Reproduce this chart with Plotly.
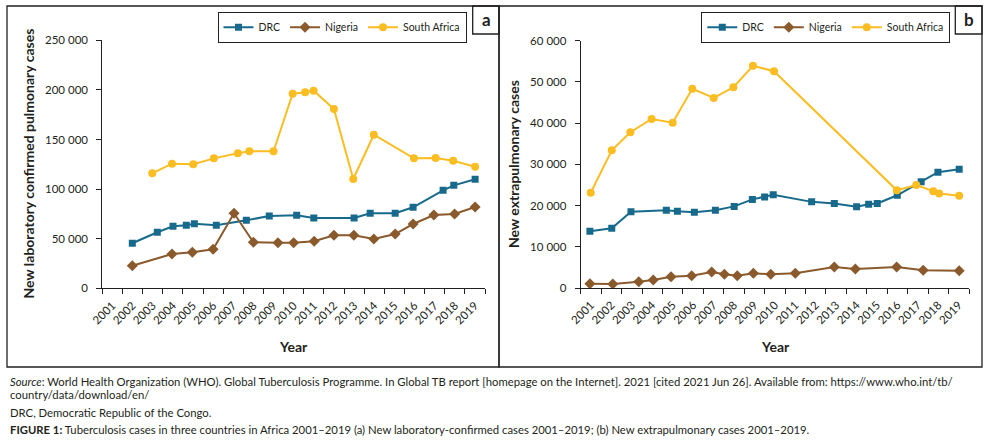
import plotly.graph_objects as go

W, H = 993, 448
INK = "#231f20"
FONT = "Lato, Carlito, 'Open Sans', sans-serif"

C_DRC = "#186a8c"
C_NIG = "#8a5a2c"
C_SA = "#fbbd21"

years = list(range(2001, 2020))
year_labels = [str(y) for y in years]
bounds = [y - 0.5 for y in years] + [2019.5]

# ---- Panel a: new laboratory-confirmed pulmonary cases ----
drc_a_year = [2001.99, 2003.23, 2004.01, 2004.67, 2005.07, 2006.16, 2007.65, 2008.79, 2010.15,
              2011.0, 2013.0, 2013.8, 2015.04, 2015.93, 2017.42, 2017.95, 2019.01]
drc_a = [45400, 56500, 62500, 63500, 65100, 63500, 68500, 72900, 73600,
         70900, 70900, 75600, 75600, 81700, 98800, 103800, 109900]

nig_a_year = [2001.99, 2003.96, 2004.97, 2006.0, 2007.04, 2008.0, 2009.22, 2010.0, 2011.02,
              2012.0, 2012.99, 2013.98, 2015.04, 2015.93, 2016.96, 2017.99, 2019.01]
nig_a = [22800, 34600, 36300, 39300, 75600, 46400, 46000, 46000, 47400,
         53400, 53400, 49700, 54700, 64800, 73900, 74900, 82000]

sa_a_year = [2002.98, 2003.96, 2005.02, 2006.04, 2007.23, 2007.8, 2009.0, 2009.95, 2010.57,
             2010.99, 2012.0, 2012.96, 2013.98, 2015.97, 2017.05, 2017.92, 2019.01]
sa_a = [115900, 125600, 125000, 131000, 136100, 138100, 138100, 196200, 197600,
        199200, 180700, 110200, 154800, 131000, 131400, 128600, 122600]

# ---- Panel b: new extrapulmonary cases ----
drc_b_year = [2000.95, 2002.02, 2002.96, 2004.69, 2005.23, 2006.06, 2007.09, 2008.01, 2008.9, 2009.5,
              2009.92, 2011.8, 2012.91, 2014.0, 2014.59, 2015.01, 2015.99, 2017.16, 2017.98, 2019.02]
drc_b = [13750, 14500, 18500, 18850, 18600, 18400, 18850, 19800, 21500, 22100,
         22600, 20900, 20500, 19700, 20300, 20500, 22500, 25800, 28100, 28800]

nig_b_year = [2000.95, 2002.07, 2003.34, 2004.05, 2004.92, 2005.93, 2006.91, 2007.53, 2008.16,
              2008.95, 2009.8, 2011.0, 2012.91, 2013.94, 2015.96, 2017.26, 2019.02]
nig_b = [1040, 970, 1530, 1940, 2740, 2980, 3880, 3320, 2980,
         3570, 3320, 3570, 5090, 4610, 5090, 4290, 4200]

sa_b_year = [2000.99, 2002.02, 2002.93, 2003.97, 2005.0, 2005.96, 2007.01, 2007.97, 2008.93,
             2009.96, 2015.97, 2016.92, 2017.75, 2018.04, 2019.02]
sa_b = [23100, 33400, 37800, 41000, 40100, 48350, 46100, 48700, 53900,
        52600, 23700, 25000, 23500, 22900, 22400]

series_names = ["DRC", "Nigeria", "South Africa"]
y_title_a = "New laboratory confirmed pulmonary cases"
y_title_b = "New extrapulmonary cases"
x_title = "Year"

caption_source = ("<i>Source</i>: World Health Organization (WHO). Global Tuberculosis Programme. In Global TB report "
                  "[homepage on the Internet]. 2021 [cited 2021 Jun 26]. Available from: https://www.who.int/tb/")
caption_source2 = "country/data/download/en/"
caption_abbr = "DRC, Democratic Republic of the Congo."
caption_fig = ("<b>FIGURE 1:</b> Tuberculosis cases in three countries in Africa 2001–2019 (a) New laboratory-confirmed "
               "cases 2001–2019; (b) New extrapulmonary cases 2001–2019.")


def px(x):
    return x / W


def py(y):
    return 1 - y / H


styles = [
    (C_DRC, "square", 7),
    (C_NIG, "diamond", 8.5),
    (C_SA, "circle", 8),
]

fig = go.Figure()

panel_a = [(drc_a_year, drc_a), (nig_a_year, nig_a), (sa_a_year, sa_a)]
panel_b = [(drc_b_year, drc_b), (nig_b_year, nig_b), (sa_b_year, sa_b)]

for (xs, ys), name, (col, sym, sz) in zip(panel_a, series_names, styles):
    fig.add_trace(go.Scatter(x=xs, y=ys, name=name, mode="lines+markers",
                             line=dict(color=col, width=2),
                             marker=dict(symbol=sym, size=sz, color=col),
                             xaxis="x", yaxis="y", legend="legend"))
for (xs, ys), name, (col, sym, sz) in zip(panel_b, series_names, styles):
    fig.add_trace(go.Scatter(x=xs, y=ys, name=name, mode="lines+markers",
                             line=dict(color=col, width=2),
                             marker=dict(symbol=sym, size=sz, color=col),
                             xaxis="x2", yaxis="y2", legend="legend2"))

tickfont = dict(family=FONT, size=11.5, color=INK)

xcommon = dict(range=[2000.5, 2019.5], tickmode="array", tickvals=years, ticktext=year_labels,
               tickangle=-45, ticks="outside", ticklen=5, tickcolor="rgba(0,0,0,0)",
               minor=dict(tickmode="array", tickvals=bounds, ticks="outside", ticklen=5,
                          tickcolor=INK, tickwidth=1, showgrid=False),
               showline=True, linecolor=INK, linewidth=1, showgrid=False, zeroline=False,
               tickfont=tickfont, fixedrange=True, automargin=False)
ycommon = dict(ticks="outside", ticklen=5, tickcolor=INK, tickwidth=1, showline=True,
               linecolor=INK, linewidth=1, showgrid=False, zeroline=False, tickformat=",d",
               tickfont=tickfont, fixedrange=True, ticklabelstandoff=6, automargin=False)

legend_common = dict(orientation="h", bgcolor="white", bordercolor=INK, borderwidth=1,
                     font=dict(family=FONT, size=10.5, color=INK), xanchor="right", yanchor="top",
                     itemclick=False, itemdoubleclick=False)

fig.update_layout(
    width=W, height=H, autosize=False,
    margin=dict(l=0, r=0, t=0, b=0, pad=0, autoexpand=False),
    paper_bgcolor="white", plot_bgcolor="white",
    separators=". ",
    font=dict(family=FONT, color=INK),
    xaxis=dict(domain=[px(102.3), px(485)], anchor="y", **xcommon),
    yaxis=dict(domain=[py(288.3), py(40.3)], anchor="x", range=[0, 250000], dtick=50000, **ycommon),
    xaxis2=dict(domain=[px(580.7), px(969)], anchor="y2", **xcommon),
    yaxis2=dict(domain=[py(288), py(40.7)], anchor="x2", range=[0, 60000], dtick=10000, **ycommon),
    legend=dict(x=px(466.5), y=py(11.7), **legend_common),
    legend2=dict(x=px(950.3), y=py(11.7), **legend_common),
    showlegend=True,
)

# frames and panel letter boxes
shapes = []
for x0, x1 in [(7, 499), (499, 982)]:
    shapes.append(dict(type="rect", xref="paper", yref="paper", x0=px(x0), x1=px(x1),
                       y0=py(367), y1=py(6), line=dict(color=INK, width=1.3)))
for x0, x1 in [(472.7, 499), (955.3, 982)]:
    shapes.append(dict(type="rect", xref="paper", yref="paper", x0=px(x0), x1=px(x1),
                       y0=py(34), y1=py(6), line=dict(color=INK, width=1.3)))
fig.update_layout(shapes=shapes)

ann = []
for txt, cx in [("a", 486), ("b", 968.6)]:
    ann.append(dict(text="<b>%s</b>" % txt, x=px(cx), y=py(20), xref="paper", yref="paper",
                    showarrow=False, xanchor="center", yanchor="middle",
                    font=dict(family=FONT, size=17, color=INK)))
for txt, cx in [(y_title_a, 27.5), (y_title_b, 513)]:
    ann.append(dict(text="<b>%s</b>" % txt, x=px(cx), y=py(164), xref="paper", yref="paper",
                    showarrow=False, textangle=-90, xanchor="center", yanchor="middle",
                    font=dict(family=FONT, size=14, color=INK)))
for cx in [293, 775]:
    ann.append(dict(text="<b>%s</b>" % x_title, x=px(cx), y=py(346), xref="paper", yref="paper",
                    showarrow=False, xanchor="center", yanchor="middle",
                    font=dict(family=FONT, size=14, color=INK)))
for txt, cy in [(caption_source, 381), (caption_source2, 394), (caption_abbr, 412), (caption_fig, 429.5)]:
    ann.append(dict(text=txt, x=px(7.5), y=py(cy), xref="paper", yref="paper",
                    showarrow=False, xanchor="left", yanchor="middle", align="left",
                    font=dict(family=FONT, size=11.3, color=INK)))
fig.update_layout(annotations=ann)

fig.write_html("out.html", config={"displayModeBar": False},
               post_script="document.body.style.margin='0';document.body.style.overflow='hidden';")
